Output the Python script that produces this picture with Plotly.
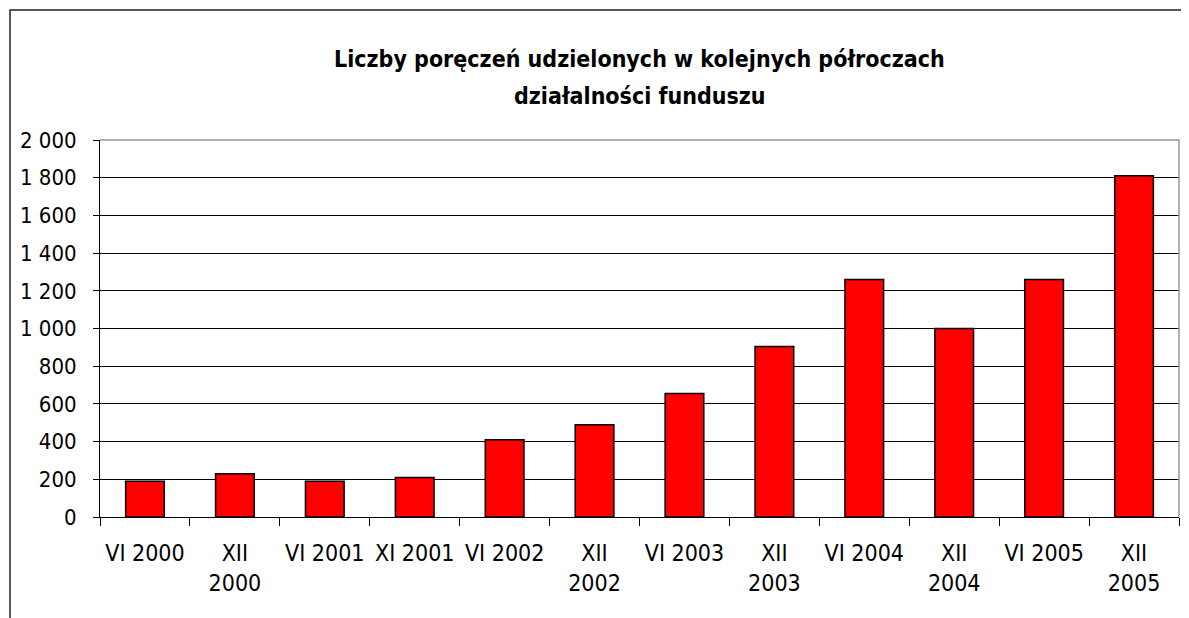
import plotly.graph_objects as go

categories = ["VI 2000", "XII<br>2000", "VI 2001", "XI 2001", "VI 2002", "XII<br>2002",
              "VI 2003", "XII<br>2003", "VI 2004", "XII<br>2004", "VI 2005", "XII<br>2005"]
values = [190, 230, 190, 210, 410, 490, 655, 905, 1260, 1000, 1260, 1810]
title_lines = ["Liczby poręczeń udzielonych w kolejnych półroczach", "działalności funduszu"]

FONT = "DejaVu Sans Condensed, DejaVu Sans, sans-serif"

OFF = 8  # default page body margin
W, H = 1189 - OFF, 618 - OFF
L, R, T, B = 100 - OFF, 10, 140 - OFF, 101
pw, ph = W - L - R, H - T - B

def px_x(p):
    return (p - OFF - L) / pw

def px_y(p):
    return (H - B - (p - OFF)) / ph

fig = go.Figure()
fig.add_trace(go.Bar(
    x=categories, y=values,
    marker=dict(color="#FF0000", line=dict(color="black", width=1.5)),
    hoverinfo="x+y",
))

fig.update_layout(
    width=W, height=H,
    margin=dict(l=L, r=R, t=T, b=B, pad=0),
    paper_bgcolor="white", plot_bgcolor="white",
    showlegend=False,
    bargap=0.57,
    separators=", ",
    font=dict(family=FONT, color="black"),
)

fig.update_xaxes(
    type="category",
    tickson="boundaries",
    ticks="outside", ticklen=8, tickcolor="black", tickwidth=1,
    showline=True, linecolor="black", linewidth=1,
    showgrid=False,
    tickfont=dict(family=FONT, size=23, color="black"),
    ticklabelstandoff=15,
)
fig.update_yaxes(
    range=[0, 2000], dtick=200, tick0=0,
    tickformat=",d",
    ticks="outside", ticklen=6, tickcolor="black", tickwidth=1,
    showline=True, linecolor="black", linewidth=1,
    showgrid=True, gridcolor="black", gridwidth=1,
    zeroline=False,
    tickfont=dict(family=FONT, size=22, color="black"),
    ticklabelstandoff=12,
)

# gray plot-area border (top and right)
fig.add_shape(type="path", xref="paper", yref="paper",
              path="M 0 1 L 1 1 L 1 0",
              line=dict(color="#999999", width=1.5), layer="above")
# outer chart border (right/bottom edges off-canvas)
fig.add_shape(type="rect", xref="paper", yref="paper",
              x0=px_x(10), y0=px_y(700), x1=px_x(1300), y1=px_y(10),
              line=dict(color="#222222", width=1.5), layer="above")

for txt, yc in zip(title_lines, [59, 96]):
    fig.add_annotation(text="<b>%s</b>" % txt, xref="paper", yref="paper",
                       x=0.5, y=px_y(yc), xanchor="center", yanchor="middle",
                       showarrow=False,
                       font=dict(family=FONT, size=23, color="black"))

fig.write_html("out.html")
